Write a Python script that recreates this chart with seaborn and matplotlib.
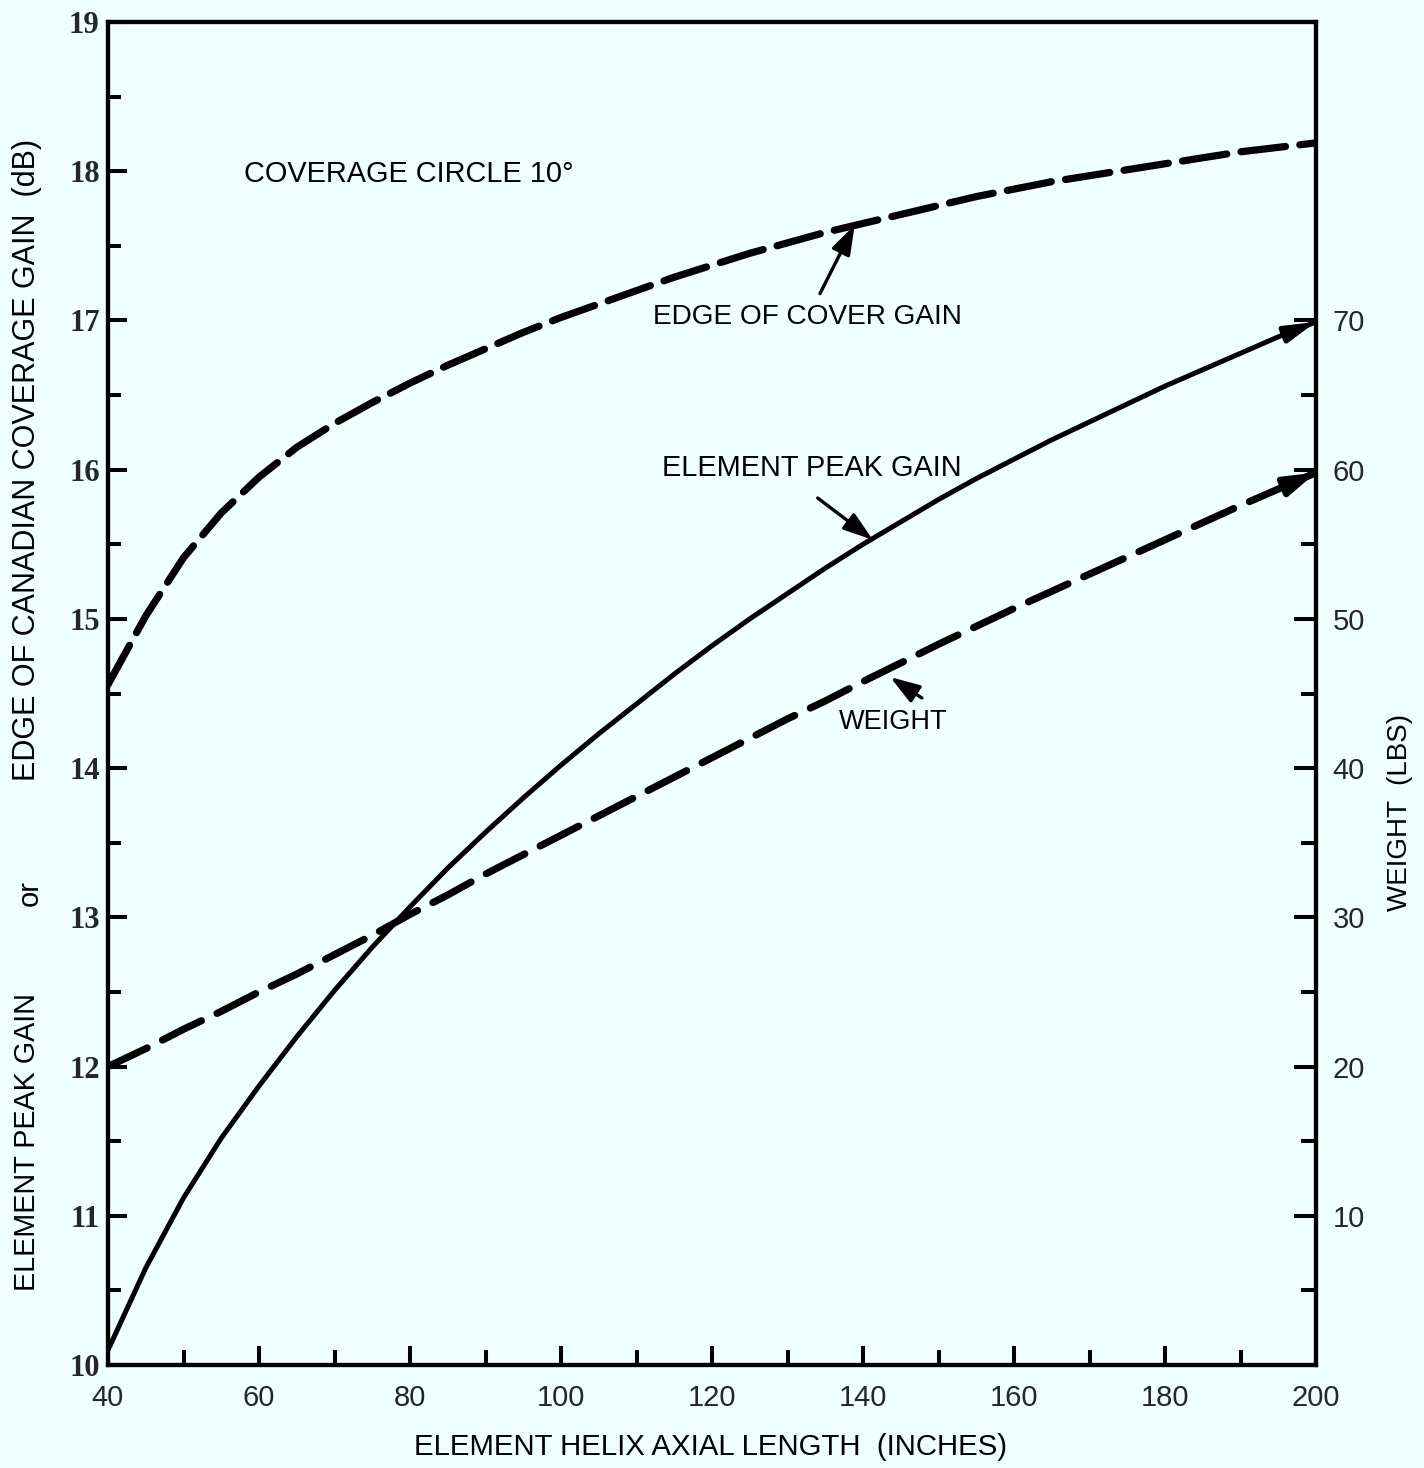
import numpy as np
import pandas as pd
import matplotlib
matplotlib.use("Agg")
import matplotlib.pyplot as plt
import seaborn as sns
from matplotlib.ticker import FixedLocator

# ---------------- data ----------------
helix_length_in = [40, 45, 50, 55, 60, 65, 70, 75, 80, 85, 90, 95, 100, 105,
                   110, 115, 120, 125, 130, 135, 140, 145, 150, 155, 160, 165,
                   170, 175, 180, 185, 190, 195, 200]
edge_cover_gain_db = [14.56, 15.02, 15.41, 15.71, 15.95, 16.15, 16.31, 16.45,
                      16.58, 16.70, 16.81, 16.92, 17.02, 17.11, 17.20, 17.29,
                      17.37, 17.45, 17.52, 17.59, 17.65, 17.71, 17.77, 17.83,
                      17.88, 17.93, 17.97, 18.01, 18.05, 18.09, 18.13, 18.16,
                      18.19]
element_peak_gain_db = [10.10, 10.65, 11.12, 11.52, 11.87, 12.20, 12.51, 12.80,
                        13.07, 13.33, 13.57, 13.80, 14.02, 14.23, 14.43, 14.63,
                        14.82, 15.00, 15.17, 15.34, 15.50, 15.65, 15.80, 15.94,
                        16.07, 16.20, 16.32, 16.44, 16.56, 16.67, 16.78, 16.89,
                        16.99]
weight_lbs = [20.0, 21.2, 22.5, 23.7, 25.0, 26.2, 27.5, 28.8, 30.2, 31.5, 32.9,
              34.2, 35.5, 36.8, 38.1, 39.4, 40.7, 42.0, 43.3, 44.5, 45.8, 47.05,
              48.3, 49.5, 50.7, 51.85, 53.0, 54.15, 55.3, 56.45, 57.6, 58.7, 59.8]

x_major_ticks = [40, 60, 80, 100, 120, 140, 160, 180, 200]
x_minor_ticks = [50, 70, 90, 110, 130, 150, 170, 190]
left_major_ticks = [10, 11, 12, 13, 14, 15, 16, 17, 18, 19]
left_minor_ticks = [10.5, 11.5, 12.5, 13.5, 14.5, 15.5, 16.5, 17.5, 18.5]
right_major_ticks = [10, 20, 30, 40, 50, 60, 70]
right_minor_ticks = [5, 15, 25, 35, 45, 55, 65]

x_label = "ELEMENT HELIX AXIAL LENGTH  (INCHES)"
left_label_lower = "ELEMENT PEAK GAIN"
left_label_or = "or"
left_label_upper = "EDGE OF CANADIAN COVERAGE GAIN  (dB)"
right_label = "WEIGHT  (LBS)"
title_note = "COVERAGE CIRCLE 10°"
lab_edge = "EDGE OF COVER GAIN"
lab_peak = "ELEMENT PEAK GAIN"
lab_weight = "WEIGHT"

df = pd.DataFrame({"length": helix_length_in,
                   "edge": edge_cover_gain_db,
                   "peak": element_peak_gain_db,
                   "weight": weight_lbs})

# ---------------- style ----------------
sns.set_theme(style="white")
BG = "#effefe"
SANS = ["Liberation Sans", "DejaVu Sans"]
SERIF = ["Liberation Serif", "DejaVu Serif"]
plt.rcParams["font.family"] = SANS
plt.rcParams["text.color"] = "black"

W, H = 1424, 1468
fig = plt.figure(figsize=(W / 100, H / 100), dpi=100, facecolor=BG)
L, R, T, B = 108, 1316, 22, 1365
ax = fig.add_axes([L / W, 1 - B / H, (R - L) / W, (B - T) / H])
ax.set_facecolor(BG)
ax2 = ax.twinx()
ax2.patch.set_visible(False)

sns.lineplot(data=df, x="length", y="edge", ax=ax, color="black", linewidth=5.2,
             linestyle=(0, (6.2, 2.0)), dash_capstyle="round", estimator=None,
             sort=False, legend=False, errorbar=None)
sns.lineplot(data=df, x="length", y="peak", ax=ax, color="black", linewidth=3.6,
             solid_capstyle="round", solid_joinstyle="round", estimator=None,
             sort=False, legend=False, errorbar=None)
sns.lineplot(data=df, x="length", y="weight", ax=ax2, color="black", linewidth=5.2,
             linestyle=(0, (6.0, 2.4)), dash_capstyle="round", estimator=None,
             sort=False, legend=False, errorbar=None)

ax.set_xlim(40, 200)
ax.set_ylim(10, 19)
ax2.set_ylim(0, 90)

# arrowheads at the right-hand ends of the peak-gain and weight curves
x_end = helix_length_in[-1]
x_back = x_end - 3
ax.annotate("", xy=(x_end, element_peak_gain_db[-1]),
            xytext=(x_back, np.interp(x_back, helix_length_in, element_peak_gain_db)),
            arrowprops=dict(arrowstyle="-|>,head_length=1.3,head_width=0.35",
                            color="black", lw=3.6, mutation_scale=14,
                            shrinkA=0, shrinkB=0))
ax2.annotate("", xy=(x_end, weight_lbs[-1]),
             xytext=(x_back, np.interp(x_back, helix_length_in, weight_lbs)),
             arrowprops=dict(arrowstyle="-|>,head_length=1.3,head_width=0.4",
                             color="black", lw=4.5, mutation_scale=14,
                             shrinkA=0, shrinkB=0))

# ---------------- ticks & spines ----------------
for a in (ax, ax2):
    for s in a.spines.values():
        s.set_linewidth(3.0)
        s.set_color("black")

ax.xaxis.set_major_locator(FixedLocator(x_major_ticks))
ax.xaxis.set_minor_locator(FixedLocator(x_minor_ticks))
ax.yaxis.set_major_locator(FixedLocator(left_major_ticks))
ax.yaxis.set_minor_locator(FixedLocator(left_minor_ticks))
ax2.yaxis.set_major_locator(FixedLocator(right_major_ticks))
ax2.yaxis.set_minor_locator(FixedLocator(right_minor_ticks))

ax.set_xticklabels([str(v) for v in x_major_ticks])
ax.set_yticklabels([str(v) for v in left_major_ticks])
ax2.set_yticklabels([str(v) for v in right_major_ticks])

ax.tick_params(axis="x", which="major", direction="in", length=14, width=2.9,
               labelsize=21, pad=14, color="black", bottom=True, top=False)
ax.tick_params(axis="x", which="minor", direction="in", length=11, width=2.9,
               bottom=True, top=False, color="black")
ax.tick_params(axis="y", which="major", direction="in", length=14, width=2.9,
               labelsize=22, pad=6, color="black", left=True, right=False)
ax.tick_params(axis="y", which="minor", direction="in", length=9, width=2.9,
               left=True, right=False, color="black")
ax2.tick_params(axis="y", which="major", direction="in", length=16, width=2.9,
                labelsize=21, pad=12, color="black", right=True, left=False)
ax2.tick_params(axis="y", which="minor", direction="in", length=11, width=2.9,
                right=True, left=False, color="black")

for lab in ax.get_yticklabels():
    lab.set_fontfamily(SERIF)
    lab.set_fontweight("bold")

ax.set_xlabel("")
ax.set_ylabel("")
ax2.set_ylabel("")

# ---------------- texts ----------------
fig.text(711 / W, 1 - 1447 / H, x_label, ha="center", va="center", fontsize=21.2)
fig.text(27 / W, 1 - 1142 / H, left_label_lower, ha="center", va="center",
         rotation=90, fontsize=20.7)
fig.text(30 / W, 1 - 893 / H, left_label_or, ha="center", va="center",
         rotation=90, fontsize=21)
fig.text(27 / W, 1 - 460 / H, left_label_upper, ha="center", va="center",
         rotation=90, fontsize=22)
fig.text(1400 / W, 1 - 812 / H, right_label, ha="center", va="center",
         rotation=90, fontsize=20)

ax.text(58.0, 17.98, title_note, ha="left", va="center", fontsize=20.8)

arrow_kw = dict(arrowstyle="-|>,head_length=0.9,head_width=0.3", color="black",
                lw=2.4, mutation_scale=20, shrinkA=0, shrinkB=0)
ax.text(132.6, 17.02, lab_edge, ha="center", va="center", fontsize=20.2)
ax.annotate("", xy=(138.9, 17.64), xytext=(134.3, 17.18), arrowprops=arrow_kw)
ax.text(133.2, 16.01, lab_peak, ha="center", va="center", fontsize=20.8)
ax.annotate("", xy=(141.3, 15.53), xytext=(134.0, 15.81), arrowprops=arrow_kw)
ax.text(144.0, 14.31, lab_weight, ha="center", va="center", fontsize=19.5)
ax.annotate("", xy=(143.6, 14.61), xytext=(147.8, 14.47), arrowprops=arrow_kw)

fig.savefig("out.png", dpi=100, facecolor=BG)
